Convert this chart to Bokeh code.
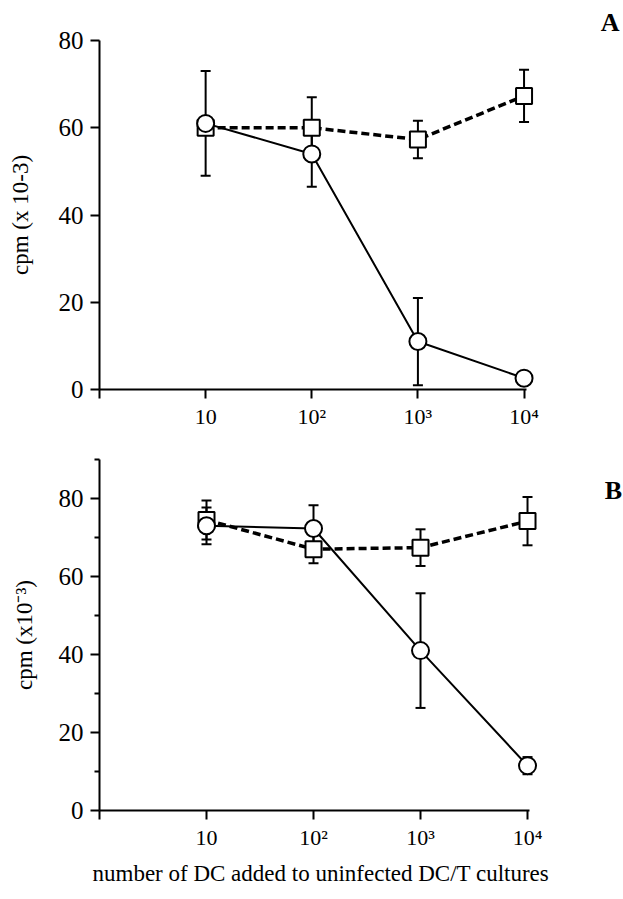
from bokeh.plotting import figure
from bokeh.models import (Range1d, FixedTicker, Whisker, ColumnDataSource,
                          Label, TeeHead, Title)
from bokeh.layouts import column
from bokeh.embed import file_html
from bokeh.resources import INLINE

# ---- data ----
dc = [10, 100, 1000, 10000]
x_tick_labels = {1: "", 10: "10", 100: "10²", 1000: "10³", 10000: "10⁴"}

a_circle = [61, 54, 11, 2.6]
a_circle_err = [12, 7.5, 10, 0]
a_square = [60, 60, 57.3, 67.3]
a_square_err = [0, 7, 4.3, 6]

b_circle = [73, 72.3, 41, 11.5]
b_circle_err = [4.7, 6, 14.7, 2.2]
b_square = [74.5, 67, 67.4, 74.2]
b_square_err = [5, 3.6, 4.7, 6.2]

a_yticks = [0, 20, 40, 60, 80]
a_yrange = (0, 80)
b_yticks = [0, 20, 40, 60, 80]
b_yminor = [10, 30, 50, 70, 90]
b_yrange = (0, 90)

FONT = "Liberation Serif"
X_AXIS_END = 10 ** 4.02


def make_panel(width, height, borders, xview_end, yrange, yticks, yminor,
               ylabel, ylabel_standoff, circ, circ_err, sq, sq_err):
    bl, br, bt, bb = borders
    p = figure(width=width, height=height, x_axis_type="log",
               x_range=Range1d(1, xview_end), y_range=Range1d(*yrange),
               output_backend="svg", toolbar_location=None,
               min_border_left=bl, min_border_right=br,
               min_border_top=bt, min_border_bottom=bb)
    p.outline_line_color = None
    p.border_fill_color = "white"
    p.xgrid.visible = False
    p.ygrid.visible = False
    p.background_fill_color = "white"

    # axes
    p.xaxis.ticker = FixedTicker(ticks=[1] + dc, minor_ticks=[])
    p.xaxis.major_label_overrides = x_tick_labels
    p.xaxis.bounds = (1, X_AXIS_END)
    p.yaxis.ticker = FixedTicker(ticks=yticks, minor_ticks=yminor)
    for ax in (p.xaxis, p.yaxis):
        ax.axis_line_width = 2
        ax.major_tick_line_width = 2
        ax.minor_tick_line_width = 2
        ax.major_tick_out = 9
        ax.major_tick_in = 0
        ax.minor_tick_out = 5
        ax.minor_tick_in = 0
        ax.major_label_text_font = FONT
        ax.major_label_text_color = "black"
        ax.axis_label_text_font = FONT
        ax.axis_label_text_font_style = "normal"
        ax.axis_label_text_color = "black"
    p.yaxis.major_label_text_font_size = "25px"
    p.xaxis.major_label_text_font_size = "22px"
    p.yaxis.axis_label_text_font_size = "23px"
    p.yaxis.major_label_standoff = 7
    p.xaxis.major_label_standoff = 5
    p.yaxis.axis_label = ylabel
    p.yaxis.axis_label_standoff = ylabel_standoff

    # lines
    p.line(dc, sq, line_color="black", line_width=3.5, line_dash="8 4")
    p.line(dc, circ, line_color="black", line_width=2)

    # error bars
    for vals, errs in ((sq, sq_err), (circ, circ_err)):
        xs = [x for x, e in zip(dc, errs) if e > 0]
        up = [v + e for v, e in zip(vals, errs) if e > 0]
        lo = [v - e for v, e in zip(vals, errs) if e > 0]
        src = ColumnDataSource(dict(x=xs, upper=up, lower=lo))
        w = Whisker(source=src, base="x", upper="upper", lower="lower",
                    dimension="height", line_width=2, line_color="black",
                    level="underlay",
                    upper_head=TeeHead(size=10, line_width=2, line_color="black"),
                    lower_head=TeeHead(size=10, line_width=2, line_color="black"))
        p.add_layout(w)

    # markers
    p.scatter(dc, sq, marker="square", size=16, fill_color="white",
              line_color="black", line_width=2)
    p.scatter(dc, circ, marker="circle", size=17, fill_color="white",
              line_color="black", line_width=2)
    return p


pa = make_panel(623, 440, (96, 0, 40, 51), 10 ** 4.937, a_yrange,
                a_yticks, [], "cpm (x 10-3)", 23,
                a_circle, a_circle_err, a_square, a_square_err)
# panel letter A as a right-aligned title
pa.title.text = "A"
pa.title.align = "right"
pa.title.offset = 4
pa.title.standoff = 8
pa.title.text_font = FONT
pa.title.text_font_style = "bold"
pa.title.text_font_size = "26px"
pa.title.text_color = "black"

pb = make_panel(623, 457, (99, 0, 19, 87), 10 ** 4.897, b_yrange,
                b_yticks, b_yminor, "cpm (x10⁻³)", 19,
                b_circle, b_circle_err, b_square, b_square_err)
# x-axis title of the lower panel, left-aligned under the axis
pb.add_layout(Title(text="number of DC added to uninfected DC/T cultures",
                    align="left", offset=-7, standoff=12, text_font=FONT,
                    text_font_style="normal", text_font_size="23px",
                    text_color="black"), "below")
# panel letter B (screen units relative to the frame's bottom-left)
pb.add_layout(Label(x=514, y=320, x_units="screen", y_units="screen",
                    text="B", text_font=FONT, text_font_style="bold",
                    text_font_size="26px", text_align="center",
                    text_baseline="middle", text_color="black"))

layout = column(pa, pb, spacing=0)
open("out.html", "w").write(file_html(layout, INLINE))
